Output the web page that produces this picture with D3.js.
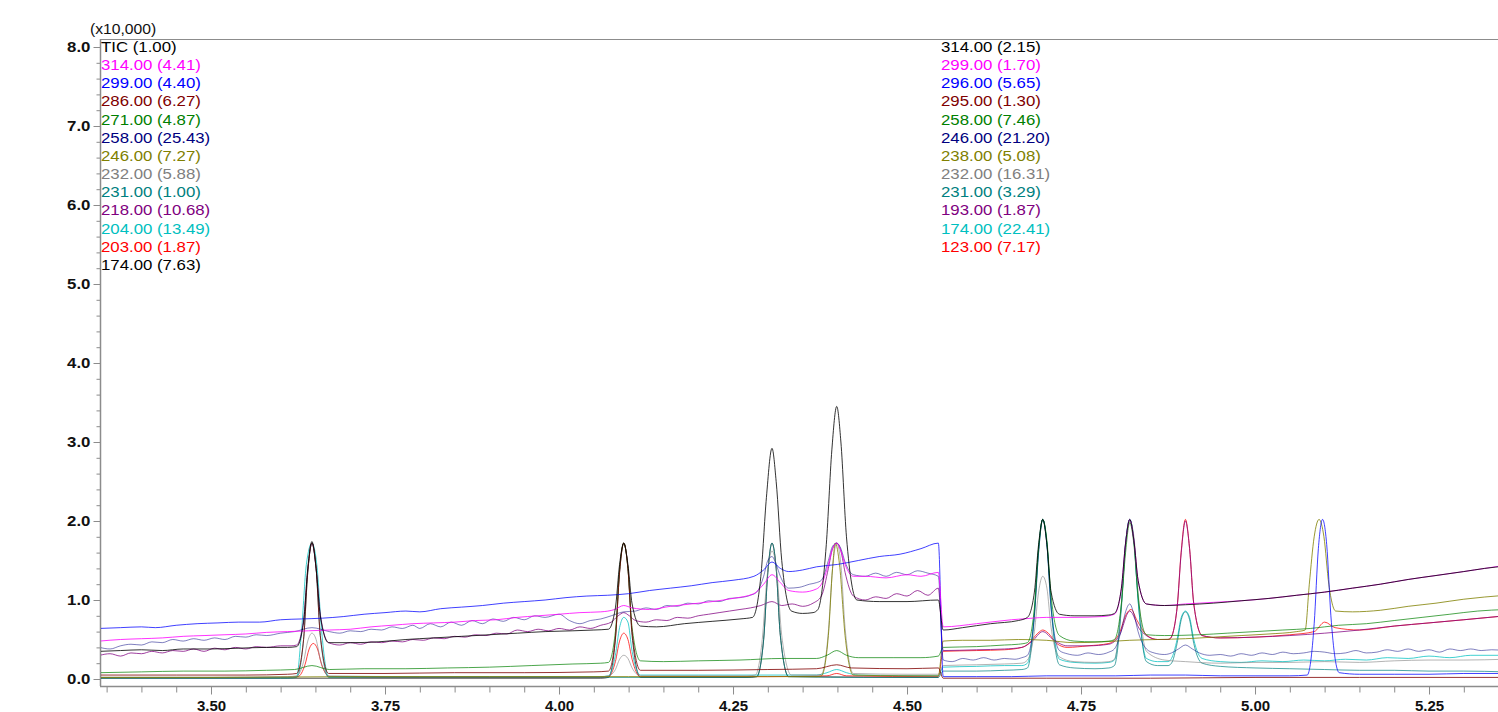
<!DOCTYPE html>
<html>
<head>
<meta charset="utf-8">
<script src="https://cdn.jsdelivr.net/npm/d3@7"></script>
<style>
  body { margin: 0; background: #fff; }
  text { font-family: "Liberation Sans", Arial, sans-serif; }
</style>
</head>
<body>
<div id="chart"></div>
<script>
// legend entries (left = first segment, right = second segment)
const leftLabels = ["TIC (1.00)", "314.00 (4.41)", "299.00 (4.40)", "286.00 (6.27)", "271.00 (4.87)",
    "258.00 (25.43)", "246.00 (7.27)", "232.00 (5.88)", "231.00 (1.00)", "218.00 (10.68)",
    "204.00 (13.49)", "203.00 (1.87)", "174.00 (7.63)"];
const rightLabels = ["314.00 (2.15)", "299.00 (1.70)", "296.00 (5.65)", "295.00 (1.30)", "258.00 (7.46)",
    "246.00 (21.20)", "238.00 (5.08)", "232.00 (16.31)", "231.00 (3.29)", "193.00 (1.87)",
    "174.00 (22.41)", "123.00 (7.17)"];

const xTicks = [3.50, 3.75, 4.00, 4.25, 4.50, 4.75, 5.00, 5.25];
const yTicks = [0, 1, 2, 3, 4, 5, 6, 7, 8];

// traces: [retention time (min), intensity (x10,000)]
const trBlack = [[3.34,0.35],[3.37,0.36],[3.40,0.37],[3.43,0.36],[3.46,0.38],[3.50,0.38],[3.54,0.39],[3.58,0.40],[3.61,0.40],
  [3.623,0.41],[3.633,0.72],[3.639,1.40],[3.645,1.74],[3.651,1.40],[3.657,0.80],[3.669,0.46],
  [3.70,0.46],[3.74,0.47],[3.78,0.50],[3.82,0.52],[3.86,0.54],[3.90,0.56],[3.94,0.58],[3.98,0.60],[4.02,0.61],[4.05,0.62],
  [4.071,0.63],[4.081,0.90],[4.087,1.45],[4.093,1.72],[4.099,1.45],[4.105,0.95],[4.117,0.67],
  [4.14,0.66],[4.18,0.70],[4.22,0.73],[4.26,0.76],
  [4.278,0.78],[4.290,1.30],[4.298,2.30],[4.306,2.92],[4.312,2.50],[4.320,1.50],[4.334,0.86],
  [4.35,0.83],[4.365,0.84],
  [4.372,0.88],[4.384,1.70],[4.392,2.90],[4.399,3.45],[4.405,3.00],[4.413,1.80],[4.428,1.00],
  [4.46,0.98],[4.50,0.98],[4.545,1.00],
  [4.552,0.62],[4.58,0.65],[4.62,0.70],[4.66,0.74],
  [4.673,0.78],[4.683,1.10],[4.689,1.70],[4.695,2.02],[4.701,1.70],[4.707,1.10],[4.719,0.82],
  [4.74,0.80],[4.77,0.80],[4.79,0.81],
  [4.798,0.83],[4.808,1.15],[4.814,1.72],[4.820,2.02],[4.826,1.75],[4.832,1.25],[4.844,0.95],
  [4.87,0.93],[4.90,0.94],[4.94,0.96],[4.98,0.99],[5.02,1.02],[5.06,1.06],[5.10,1.10],[5.14,1.15],[5.18,1.20],
  [5.22,1.26],[5.26,1.31],[5.30,1.36],[5.33,1.40],[5.36,1.43]];

const trMagenta = [[3.34,0.48],[3.37,0.50],[3.40,0.51],[3.43,0.52],[3.46,0.54],[3.49,0.55],[3.52,0.56],[3.55,0.57],[3.58,0.59],
  [3.61,0.60],[3.64,0.61],[3.67,0.62],[3.70,0.63],[3.73,0.66],[3.76,0.68],[3.79,0.70],[3.82,0.71],[3.85,0.72],[3.88,0.74],
  [3.91,0.75],[3.94,0.78],[3.97,0.80],[4.00,0.82],[4.03,0.84],[4.06,0.85],
  [4.080,0.88],[4.093,0.93],[4.105,0.90],
  [4.13,0.88],[4.16,0.92],[4.19,0.95],[4.22,0.98],[4.25,1.02],[4.28,1.08],
  [4.294,1.20],[4.306,1.32],[4.318,1.22],[4.33,1.12],[4.35,1.10],[4.37,1.14],
  [4.377,1.20],[4.387,1.45],[4.393,1.65],[4.399,1.72],[4.405,1.62],[4.411,1.45],[4.423,1.30],
  [4.44,1.30],[4.47,1.28],[4.50,1.32],[4.52,1.30],[4.545,1.35],
  [4.552,0.66],[4.60,0.70],[4.65,0.75],[4.68,0.77],[4.70,0.78],[4.74,0.78],[4.78,0.79],
  [4.798,0.82],[4.808,1.15],[4.814,1.72],[4.820,2.02],[4.826,1.75],[4.832,1.25],[4.844,0.95],
  [4.87,0.93],[4.90,0.95],[4.94,0.97],[4.98,0.99],[5.02,1.02],[5.06,1.06],[5.10,1.10],[5.14,1.15],[5.18,1.20],
  [5.22,1.26],[5.26,1.31],[5.30,1.36],[5.33,1.40],[5.36,1.44]];

const trBlue = [[3.34,0.64],[3.37,0.65],[3.40,0.66],[3.42,0.65],[3.45,0.68],[3.48,0.70],[3.51,0.71],[3.54,0.72],[3.57,0.72],
  [3.60,0.75],[3.63,0.76],[3.66,0.77],[3.69,0.79],[3.72,0.82],[3.75,0.84],[3.78,0.86],[3.80,0.85],[3.83,0.89],[3.86,0.91],
  [3.89,0.93],[3.92,0.96],[3.95,0.98],[3.98,1.00],[4.01,1.03],[4.04,1.05],[4.07,1.06],[4.10,1.08],[4.13,1.12],[4.16,1.15],
  [4.19,1.18],[4.22,1.22],[4.25,1.25],[4.28,1.30],
  [4.294,1.38],[4.306,1.48],[4.318,1.40],[4.33,1.36],[4.35,1.38],[4.37,1.42],[4.40,1.45],[4.43,1.50],[4.46,1.55],
  [4.49,1.58],[4.52,1.65],[4.545,1.72],
  [4.552,0.03],[4.60,0.03],[4.65,0.03],[4.70,0.04],[4.75,0.04],[4.80,0.04],[4.85,0.05],[4.90,0.05],[4.95,0.04],
  [5.00,0.04],[5.05,0.04],
  [5.075,0.05],[5.085,0.70],[5.091,1.65],[5.097,2.02],[5.103,1.70],[5.109,0.80],[5.121,0.08],
  [5.15,0.06],[5.20,0.06],[5.25,0.06],[5.30,0.07],[5.36,0.07]];

const trMaroon = [[3.34,0.05],[3.45,0.05],[3.55,0.05],[3.61,0.06],
  [3.623,0.07],[3.633,0.50],[3.639,1.35],[3.645,1.72],[3.651,1.40],[3.657,0.55],[3.669,0.07],
  [3.75,0.07],[3.85,0.08],[3.95,0.08],[4.05,0.09],
  [4.071,0.10],[4.081,0.52],[4.087,1.35],[4.093,1.72],[4.099,1.40],[4.105,0.60],[4.117,0.11],
  [4.20,0.11],[4.30,0.12],[4.37,0.13],[4.399,0.18],[4.42,0.14],[4.50,0.13],[4.545,0.14],
  [4.552,0.01],[4.70,0.01],[4.85,0.01],[5.00,0.02],[5.15,0.02],[5.36,0.02]];

const trGreen = [[3.34,0.08],[3.40,0.09],[3.46,0.10],[3.52,0.10],[3.58,0.11],[3.62,0.12],[3.645,0.17],[3.67,0.12],
  [3.72,0.13],[3.78,0.13],[3.84,0.14],[3.90,0.15],[3.96,0.17],[4.02,0.19],[4.06,0.20],
  [4.071,0.21],[4.081,0.60],[4.087,1.38],[4.093,1.72],[4.099,1.40],[4.105,0.65],[4.117,0.23],
  [4.15,0.22],[4.20,0.23],[4.26,0.24],[4.32,0.26],[4.37,0.26],[4.385,0.30],[4.399,0.36],[4.413,0.30],[4.43,0.27],
  [4.48,0.27],[4.52,0.27],[4.545,0.29],
  [4.552,0.40],[4.60,0.41],[4.64,0.43],[4.66,0.44],
  [4.673,0.46],[4.683,0.90],[4.689,1.65],[4.695,2.02],[4.701,1.75],[4.707,1.05],[4.719,0.55],
  [4.74,0.48],[4.77,0.47],[4.79,0.48],
  [4.798,0.50],[4.808,0.95],[4.814,1.60],[4.820,1.98],[4.826,1.70],[4.832,1.05],[4.844,0.56],
  [4.87,0.55],[4.92,0.56],[4.96,0.58],[5.00,0.60],[5.04,0.62],[5.08,0.64],[5.12,0.68],[5.16,0.70],[5.20,0.74],
  [5.24,0.78],[5.28,0.82],[5.32,0.86],[5.36,0.88]];

const trNavy = [[3.34,0.40],[3.355,0.38],[3.37,0.42],[3.385,0.44],[3.40,0.43],[3.415,0.47],[3.43,0.46],[3.445,0.50],
  [3.46,0.48],[3.475,0.51],[3.49,0.49],[3.505,0.52],[3.52,0.50],[3.535,0.54],[3.55,0.53],[3.565,0.56],[3.58,0.55],
  [3.60,0.58],[3.62,0.60],[3.645,0.65],[3.67,0.60],[3.685,0.58],[3.70,0.61],[3.715,0.60],[3.73,0.63],[3.745,0.62],
  [3.76,0.66],[3.775,0.64],[3.79,0.68],[3.80,0.64],[3.815,0.70],[3.83,0.66],[3.845,0.72],[3.86,0.68],[3.875,0.74],
  [3.89,0.70],[3.905,0.76],[3.92,0.73],[3.935,0.78],[3.95,0.75],[3.965,0.80],[3.98,0.78],[4.00,0.82],[4.015,0.74],
  [4.03,0.70],[4.045,0.74],[4.06,0.76],[4.075,0.80],[4.093,0.85],[4.11,0.86],[4.125,0.90],[4.14,0.88],[4.155,0.93],
  [4.17,0.92],[4.185,0.96],[4.20,0.95],[4.215,0.99],[4.23,0.98],[4.245,1.02],[4.26,1.03],[4.275,1.06],
  [4.284,1.10],[4.294,1.30],[4.300,1.50],[4.306,1.55],[4.312,1.45],[4.318,1.30],[4.330,1.15],
  [4.345,1.16],[4.36,1.20],[4.37,1.22],
  [4.377,1.25],[4.387,1.50],[4.393,1.68],[4.399,1.72],[4.405,1.65],[4.411,1.48],[4.423,1.32],
  [4.44,1.30],[4.455,1.34],[4.47,1.30],[4.485,1.35],[4.50,1.32],[4.515,1.37],[4.53,1.34],[4.545,1.30],
  [4.552,0.24],[4.565,0.22],[4.58,0.26],[4.595,0.24],[4.61,0.27],[4.625,0.24],[4.64,0.26],[4.655,0.25],[4.665,0.27],
  [4.673,0.30],[4.683,0.80],[4.689,1.60],[4.695,2.02],[4.701,1.70],[4.707,0.90],[4.719,0.36],
  [4.73,0.32],[4.745,0.30],[4.76,0.33],[4.775,0.31],[4.79,0.34],
  [4.798,0.38],[4.808,0.62],[4.814,0.85],[4.820,0.95],[4.826,0.82],[4.832,0.60],[4.844,0.38],
  [4.855,0.33],[4.87,0.31],[4.88,0.33],[4.89,0.38],[4.900,0.43],[4.91,0.38],[4.92,0.33],
  [4.935,0.30],[4.95,0.31],[4.965,0.29],[4.98,0.32],[4.995,0.30],[5.01,0.33],[5.025,0.31],[5.04,0.34],[5.055,0.32],
  [5.07,0.33],[5.085,0.35],[5.10,0.34],[5.115,0.32],[5.13,0.33],[5.145,0.36],[5.16,0.33],[5.175,0.34],[5.19,0.37],
  [5.205,0.35],[5.22,0.38],[5.235,0.35],[5.25,0.37],[5.265,0.34],[5.28,0.38],[5.295,0.36],[5.31,0.38],[5.325,0.36],
  [5.34,0.37],[5.36,0.36]];

const trOlive = [[3.34,0.02],[3.50,0.02],[3.70,0.03],[3.90,0.03],[4.10,0.03],[4.30,0.03],[4.37,0.03],
  [4.377,0.04],[4.387,0.55],[4.393,1.40],[4.397,1.72],[4.403,1.45],[4.411,0.55],[4.423,0.05],
  [4.50,0.04],[4.545,0.04],
  [4.552,0.48],[4.58,0.49],[4.62,0.49],[4.66,0.50],[4.70,0.49],[4.74,0.46],[4.78,0.47],[4.82,0.49],[4.86,0.50],
  [4.90,0.51],[4.94,0.53],[4.98,0.55],[5.02,0.57],[5.06,0.60],[5.072,0.62],
  [5.078,1.20],[5.085,1.80],[5.092,2.02],[5.099,1.80],[5.106,1.20],[5.116,0.86],
  [5.14,0.85],[5.18,0.87],[5.22,0.92],[5.26,0.96],[5.30,1.01],[5.36,1.06]];

const trGray = [[3.34,0.02],[3.50,0.02],[3.61,0.03],
  [3.623,0.04],[3.633,0.22],[3.639,0.48],[3.645,0.58],[3.651,0.50],[3.657,0.25],[3.669,0.04],
  [3.80,0.03],[3.95,0.03],[4.06,0.03],
  [4.071,0.04],[4.081,0.12],[4.087,0.25],[4.093,0.30],[4.099,0.26],[4.105,0.14],[4.117,0.04],
  [4.20,0.04],[4.27,0.04],
  [4.282,0.05],[4.292,0.50],[4.299,1.30],[4.306,1.62],[4.313,1.35],[4.320,0.55],[4.334,0.05],
  [4.37,0.05],
  [4.377,0.06],[4.387,0.60],[4.393,1.40],[4.399,1.72],[4.405,1.45],[4.411,0.65],[4.423,0.07],
  [4.50,0.06],[4.545,0.06],
  [4.552,0.17],[4.60,0.18],[4.64,0.19],[4.665,0.20],
  [4.673,0.24],[4.683,0.60],[4.689,1.10],[4.695,1.30],[4.701,1.15],[4.707,0.65],[4.719,0.28],
  [4.74,0.22],[4.77,0.21],[4.79,0.22],
  [4.798,0.25],[4.808,0.95],[4.814,1.70],[4.820,2.00],[4.826,1.80],[4.832,1.10],[4.844,0.35],
  [4.87,0.24],[4.90,0.22],[4.95,0.20],[5.00,0.21],[5.05,0.21],[5.10,0.22],[5.15,0.21],[5.20,0.23],[5.25,0.24],
  [5.30,0.24],[5.36,0.25]];

const trTeal = [[3.34,0.01],[3.50,0.01],[3.61,0.01],
  [3.623,0.02],[3.633,0.50],[3.639,1.35],[3.645,1.72],[3.651,1.40],[3.657,0.55],[3.669,0.02],
  [3.90,0.02],[4.27,0.02],
  [4.284,0.03],[4.294,0.50],[4.300,1.35],[4.306,1.72],[4.312,1.40],[4.318,0.55],[4.330,0.03],
  [4.45,0.02],[4.545,0.02],
  [4.552,0.10],[4.60,0.10],[4.64,0.11],[4.665,0.12],
  [4.673,0.14],[4.683,0.80],[4.689,1.60],[4.695,2.02],[4.701,1.70],[4.707,0.90],[4.719,0.18],
  [4.74,0.14],[4.77,0.13],[4.79,0.14],
  [4.798,0.17],[4.808,0.90],[4.814,1.70],[4.820,2.02],[4.826,1.75],[4.832,1.00],[4.844,0.22],
  [4.86,0.17],[4.875,0.17],
  [4.880,0.20],[4.888,0.45],[4.894,0.75],[4.900,0.85],[4.906,0.75],[4.912,0.45],[4.924,0.20],
  [4.95,0.16],[5.00,0.14],[5.05,0.13],[5.10,0.12],[5.15,0.11],[5.20,0.11],[5.25,0.10],[5.30,0.10],[5.36,0.09]];

const trPurple = [[3.34,0.30],[3.355,0.32],[3.37,0.29],[3.385,0.33],[3.40,0.32],[3.415,0.35],[3.43,0.33],[3.445,0.36],
  [3.46,0.35],[3.475,0.38],[3.49,0.35],[3.505,0.39],[3.52,0.37],[3.535,0.40],[3.55,0.38],[3.565,0.41],[3.58,0.40],
  [3.60,0.42],[3.615,0.42],
  [3.623,0.43],[3.633,0.75],[3.639,1.38],[3.645,1.72],[3.651,1.40],[3.657,0.82],[3.669,0.46],
  [3.685,0.43],[3.70,0.46],[3.715,0.44],[3.73,0.47],[3.745,0.46],[3.76,0.48],[3.775,0.47],[3.79,0.50],[3.805,0.49],
  [3.82,0.52],[3.835,0.51],[3.85,0.54],[3.865,0.53],[3.88,0.56],[3.895,0.55],[3.91,0.58],[3.925,0.57],[3.94,0.62],
  [3.955,0.60],[3.97,0.63],[3.985,0.61],[4.00,0.64],[4.015,0.62],[4.03,0.66],[4.045,0.64],[4.06,0.68],
  [4.075,0.72],[4.085,0.80],[4.093,0.84],[4.101,0.80],[4.11,0.74],
  [4.125,0.72],[4.14,0.75],[4.155,0.74],[4.17,0.78],[4.185,0.77],[4.20,0.80],[4.215,0.82],[4.23,0.84],[4.245,0.86],
  [4.26,0.88],[4.275,0.90],[4.29,0.93],[4.306,0.98],[4.32,0.93],[4.335,0.95],[4.35,0.92],[4.365,0.96],
  [4.377,1.05],[4.387,1.40],[4.393,1.65],[4.399,1.72],[4.405,1.62],[4.411,1.35],[4.423,1.05],
  [4.44,1.00],[4.455,1.04],[4.47,1.02],[4.485,1.08],[4.50,1.05],[4.515,1.12],[4.53,1.06],[4.545,1.15],
  [4.552,0.36],[4.60,0.37],[4.64,0.38],[4.665,0.40],
  [4.680,0.48],[4.695,0.60],[4.710,0.50],
  [4.73,0.42],[4.76,0.42],[4.79,0.44],
  [4.805,0.55],[4.82,0.86],[4.835,0.62],
  [4.86,0.50],[4.875,0.50],
  [4.878,0.51],[4.888,0.90],[4.894,1.60],[4.900,2.00],[4.906,1.65],[4.912,0.95],[4.924,0.55],
  [4.95,0.52],[5.00,0.53],[5.05,0.55],[5.10,0.58],[5.15,0.62],[5.20,0.67],[5.25,0.71],[5.30,0.75],[5.36,0.80]];

const trCyan = [[3.34,0.02],[3.50,0.02],[3.61,0.02],
  [3.623,0.03],[3.630,0.60],[3.637,1.45],[3.645,1.72],[3.652,1.45],[3.659,0.60],[3.669,0.03],
  [3.80,0.03],[4.00,0.03],[4.06,0.03],
  [4.071,0.04],[4.081,0.30],[4.087,0.65],[4.093,0.78],[4.099,0.72],[4.105,0.35],[4.117,0.05],
  [4.25,0.05],[4.37,0.05],[4.385,0.08],[4.399,0.12],[4.413,0.08],[4.43,0.05],[4.545,0.04],
  [4.552,0.15],[4.60,0.16],[4.64,0.17],[4.665,0.17],
  [4.673,0.20],[4.683,0.85],[4.689,1.65],[4.695,2.02],[4.701,1.72],[4.707,0.95],[4.719,0.25],
  [4.74,0.21],[4.77,0.20],[4.79,0.21],
  [4.798,0.24],[4.808,0.95],[4.814,1.72],[4.820,2.02],[4.826,1.75],[4.832,1.00],[4.844,0.26],
  [4.86,0.22],[4.875,0.22],
  [4.880,0.26],[4.888,0.50],[4.894,0.78],[4.900,0.86],[4.906,0.78],[4.912,0.50],[4.924,0.26],
  [4.95,0.22],[4.98,0.21],[5.01,0.23],[5.04,0.22],[5.07,0.24],[5.10,0.23],[5.13,0.25],[5.16,0.24],[5.19,0.27],
  [5.22,0.26],[5.25,0.29],[5.28,0.27],[5.31,0.30],[5.36,0.30]];

const trRed = [[3.34,0.02],[3.50,0.02],[3.61,0.02],
  [3.625,0.03],[3.635,0.18],[3.641,0.38],[3.647,0.45],[3.653,0.38],[3.659,0.18],[3.671,0.03],
  [3.80,0.02],[4.00,0.02],[4.06,0.02],
  [4.071,0.03],[4.081,0.22],[4.087,0.48],[4.093,0.58],[4.099,0.50],[4.105,0.25],[4.117,0.03],
  [4.30,0.03],[4.385,0.04],[4.399,0.07],[4.413,0.04],[4.545,0.03],
  [4.552,0.35],[4.60,0.36],[4.64,0.37],[4.665,0.40],
  [4.675,0.45],[4.688,0.58],[4.695,0.62],[4.703,0.58],[4.715,0.45],
  [4.73,0.40],[4.76,0.42],[4.79,0.45],
  [4.805,0.58],[4.815,0.82],[4.822,0.88],[4.830,0.75],[4.845,0.55],
  [4.86,0.50],[4.875,0.50],
  [4.878,0.51],[4.888,0.90],[4.894,1.62],[4.900,2.02],[4.906,1.65],[4.912,0.95],[4.924,0.55],
  [4.95,0.52],[5.00,0.53],[5.05,0.56],[5.085,0.60],[5.10,0.72],[5.115,0.65],[5.15,0.62],[5.20,0.67],
  [5.25,0.71],[5.30,0.75],[5.36,0.80]];

const trBlack2 = [[3.34,0.01],[3.60,0.01],[4.06,0.01],
  [4.071,0.02],[4.081,0.50],[4.087,1.35],[4.093,1.72],[4.099,1.40],[4.105,0.55],[4.117,0.02],
  [4.27,0.02],
  [4.284,0.03],[4.294,0.50],[4.300,1.35],[4.306,1.72],[4.312,1.40],[4.318,0.55],[4.330,0.03],
  [4.545,0.02]];

const traces = [trBlack, trMagenta, trBlue, trMaroon, trGreen, trNavy, trOlive, trGray, trTeal,
    trPurple, trCyan, trRed, trBlack2];
const colors = ["#000000", "#ff00ff", "#0000ff", "#800000", "#008000", "#000080", "#808000",
    "#808080", "#008080", "#800080", "#00c0c0", "#ff0000", "#000000"];
const opac = [0.8, 0.8, 0.75, 0.8, 0.7, 0.5, 0.8, 0.6, 0.7, 0.75, 0.75, 0.75, 0.7];

// svg
let width = 1498, height = 712;
let svg = d3.select("#chart").append("svg")
    .attr("width", width)
    .attr("height", height);

let x = d3.scaleLinear().domain([3.3405, 5.3491]).range([100, 1498]);
let y = d3.scaleLinear().domain([0, 8]).range([679, 47]);

let axisColor = "#8c8c8c";

// frame: top border, left axis line, bottom axis line
svg.append("line").attr("x1", 100).attr("x2", width).attr("y1", 39.5).attr("y2", 39.5)
    .attr("stroke", axisColor);
svg.append("line").attr("x1", 100.5).attr("x2", 100.5).attr("y1", 39).attr("y2", 686)
    .attr("stroke", axisColor).attr("stroke-width", 1.5);
svg.append("line").attr("x1", 100).attr("x2", width).attr("y1", 686.5).attr("y2", 686.5)
    .attr("stroke", axisColor).attr("stroke-width", 1.5);

// y axis
let yMinor = d3.range(0, 40).map(d => d / 5).filter(d => d % 1 !== 0);
let yMinorAxis = svg.append("g").attr("transform", "translate(100.5,0)")
    .call(d3.axisLeft(y).tickValues(yMinor).tickSize(4).tickFormat(""));
let yAxis = svg.append("g").attr("transform", "translate(100.5,0)")
    .call(d3.axisLeft(y).tickValues(yTicks).tickSize(7).tickPadding(2).tickFormat(d3.format(".1f")));
[yMinorAxis, yAxis].forEach(g => {
    g.select(".domain").remove();
    g.selectAll("line").attr("stroke", axisColor);
});
yAxis.selectAll("text")
    .attr("font-size", 15).attr("font-weight", "bold").attr("fill", "#111")
    .attr("transform", "scale(1.12,1)");

// x axis
let xMinor = d3.range(67, 108).map(d => d / 20).filter(d => Math.round(d * 100) % 25 !== 0);
let xMinorAxis = svg.append("g").attr("transform", "translate(0,686.5)")
    .call(d3.axisBottom(x).tickValues(xMinor).tickSize(6).tickFormat(""));
let xAxis = svg.append("g").attr("transform", "translate(0,686.5)")
    .call(d3.axisBottom(x).tickValues(xTicks).tickSize(8).tickPadding(6).tickFormat(d3.format(".2f")));
[xMinorAxis, xAxis].forEach(g => {
    g.select(".domain").remove();
    g.selectAll("line").attr("stroke", axisColor);
});
xAxis.selectAll("text")
    .attr("font-size", 15).attr("font-weight", "bold").attr("fill", "#111");

// multiplier label
svg.append("text")
    .attr("transform", "translate(90,34) scale(1.12,1)")
    .attr("font-size", 14)
    .attr("fill", "#111")
    .text("(x10,000)");

// traces
svg.append("clipPath").attr("id", "plotClip")
    .append("rect").attr("x", 101).attr("y", 40).attr("width", width - 101).attr("height", 646);

let line = d3.line()
    .x(d => x(d[0]))
    .y(d => y(d[1]))
    .curve(d3.curveMonotoneX);

let traceGroup = svg.append("g").attr("clip-path", "url(#plotClip)");
// draw in reverse so the TIC ends up on top
d3.range(traces.length).reverse().forEach(i => {
    traceGroup.append("path")
        .datum(traces[i])
        .attr("d", line)
        .attr("fill", "none")
        .attr("stroke", colors[i])
        .attr("stroke-opacity", opac[i])
        .attr("stroke-width", 1);
});

// legends
function legend(labels, x0) {
    svg.append("g").selectAll("text")
        .data(labels)
        .enter()
        .append("text")
        .attr("transform", (d, i) => `translate(${x0}, ${52 + i * 18.15}) scale(1.2,1)`)
        .attr("font-size", 14)
        .attr("fill", (d, i) => colors[i])
        .text(d => d);
}
legend(leftLabels, 101);
legend(rightLabels, 941);
</script>
</body>
</html>
